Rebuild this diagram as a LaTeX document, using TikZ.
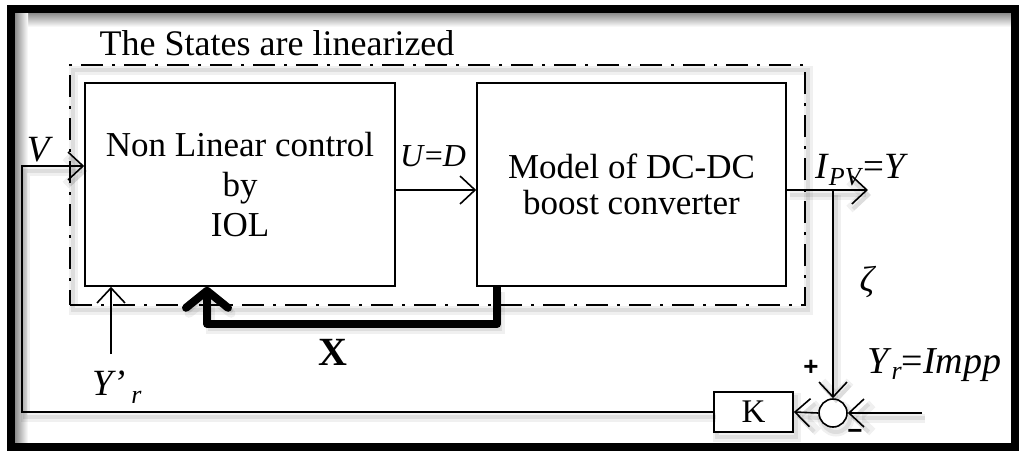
\documentclass[tikz,border=0pt]{standalone}
\usepackage{fontspec}
\setmainfont{Liberation Serif}
\newfontfamily\sansf{Liberation Sans}
\usetikzlibrary{arrows.meta,shadows}
\begin{document}
\begin{tikzpicture}[x=1pt,y=-1pt,
  shd/.style={preaction={draw=black, solid, opacity=0.06, line width=9pt, transform canvas={shift={(3pt,-5pt)}}},
              preaction={draw=black, solid, opacity=0.08, line width=4pt, transform canvas={shift={(3pt,-5pt)}}}},
  blk/.style={draw, line width=1.6pt, fill=white, align=center, inner sep=0pt},
  ln/.style={line width=1.6pt},
  arr/.style={ln, -{Straight Barb[length=15pt,width=28pt]}},
  bigarr/.style={line width=8pt, line join=round, -{Straight Barb[length=17pt,width=42pt, line cap=round, line join=round]}},
  dashdot/.style={line width=2.4pt, dash pattern=on 22pt off 9pt on 3pt off 9pt},
  lbl/.style={inner sep=0pt}
]
\useasboundingbox (0,0) rectangle (1020,450);
\fill[white] (0,0) rectangle (1020,450);

% inner shadow of the frame
\shade[top color=black!45, bottom color=white] (15,13) rectangle (1011,27);
\shade[left color=black!45, right color=white] (15,13) rectangle (28,443);
\fill[white] (28,27) rectangle (1011,443);
% frame
\draw[line width=8pt] (11,9) rectangle (1015,447);

% linearized region
\node[draw, dashdot, shd, minimum width=735pt, minimum height=240pt, inner sep=0pt] (lin) at (437.5,185) {};
\node[lbl, anchor=base, font={\fontsize{36}{40}\selectfont}] (title) at (277,55) {The States are linearized};

% blocks
\node[blk, minimum width=310pt, minimum height=203pt, font={\fontsize{35}{40}\selectfont}] (A) at (240,184.5)
  {Non Linear control\\ by\\ IOL};
\node[blk, minimum width=309pt, minimum height=203pt, font={\fontsize{35}{36}\selectfont}] (B) at (631.5,184.5)
  {Model of DC-DC\\ boost converter};
\node[blk, shd, minimum width=79pt, minimum height=40pt, font={\fontsize{33}{36}\selectfont}] (K) at (753.5,412)
  {K};
\node[draw, circle, ln, shd, fill=white, minimum size=28pt, inner sep=0pt] (S) at (833,413) {};

% helper coordinates
\coordinate (vin) at (22,166);
\coordinate (ud) at (0,190);
\coordinate (out) at (868,190);
\coordinate (br) at (833,190);
\coordinate (ref) at (922,413);
\coordinate (yr) at (111,354);
\coordinate (xb) at (497,324);
\coordinate (xa) at (207,324);

% connectors
\draw[arr, shd] (K.west) -- (K.west -| vin) -- (vin) -- (vin -| A.west);
\draw[arr] (A.east |- ud) -- (B.west |- ud);
\draw[arr, shd] (B.east |- ud) -- (out);
\draw[arr, shd] (br) -- (S.north);
\draw[arr, shd] (ref) -- (S.east);
\draw[arr, shd] (S.west) -- (K.east);
\draw[arr] (yr) -- (yr |- A.south);
\draw[bigarr, shd] (B.south -| xb) -- (xb) -- (xa) -- (xa |- A.south);

% labels
\node[lbl] (lV) at (40,150) {\fontsize{37}{40}\selectfont\textit{V}};
\node[lbl] (lUD) at (433,156) {\fontsize{32}{36}\selectfont\textit{U}=\textit{D}};
\node[lbl, anchor=base west] (lI) at (815,178)
  {\fontsize{37}{40}\selectfont\textit{I}\raisebox{-7pt}{\fontsize{26}{26}\selectfont\textit{PV}}=\textit{Y}};
\node[lbl] (lz) at (868,282) {\fontsize{36}{40}\selectfont\textit{ζ}};
\node[lbl, anchor=base west] (lYr) at (867,373)
  {\fontsize{38}{40}\selectfont\textit{Y}\raisebox{-6pt}{\fontsize{26}{26}\selectfont\textit{r}}=\textit{Impp}};
\node[lbl, anchor=base west] (lYp) at (92,395)
  {\fontsize{37}{40}\selectfont\textit{Y’}\,\raisebox{-8pt}{\fontsize{26}{26}\selectfont\textit{r}}};
\node[lbl] (lX) at (333,352) {\fontsize{40}{44}\selectfont\textbf{X}};
\node[lbl] (lp) at (811,368) {\fontsize{26}{28}\selectfont\sansf\bfseries +};
\node[lbl] (lm) at (855,434) {\fontsize{26}{28}\selectfont\sansf\bfseries −};
\end{tikzpicture}
\end{document}
